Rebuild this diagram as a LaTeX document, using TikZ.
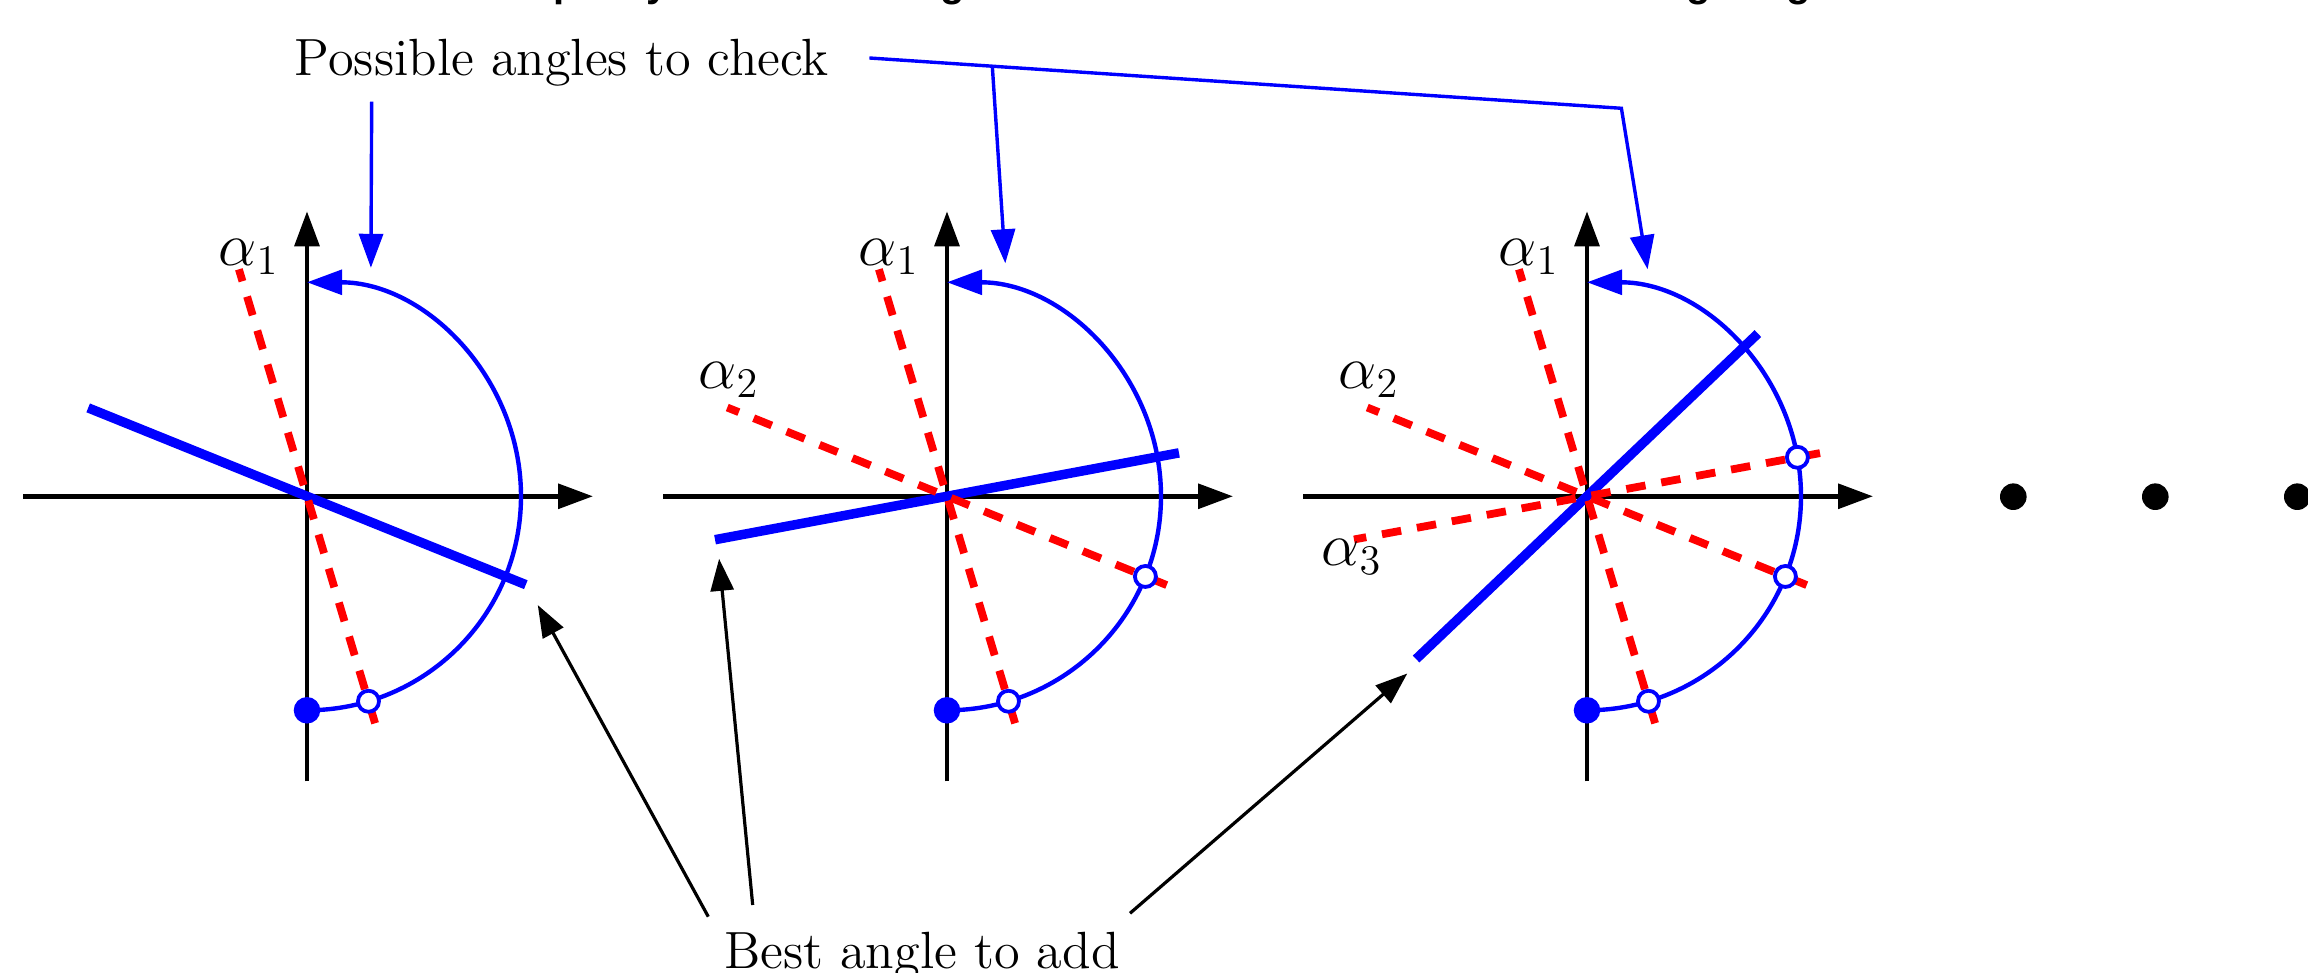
\documentclass[tikz,border=0pt]{standalone}
\usepackage{fontspec}
\newfontfamily\titlefont{Liberation Sans}
\usetikzlibrary{arrows.meta,calc}

\begin{document}
\begin{tikzpicture}[
  axisline/.style={line width=0.047cm, black, -{Triangle[length=0.35cm,width=0.245cm]}},
  sweep/.style={line width=0.044cm, blue, -{Triangle[length=0.35cm,width=0.245cm]}},
  cand/.style={line width=0.078cm, red, dash pattern=on 0.195cm off 0.16cm},
  bestline/.style={line width=0.095cm, blue},
  hollow/.style={circle, draw=blue, fill=white, line width=0.038cm, minimum size=0.21cm, inner sep=0pt},
  fulldot/.style={circle, fill=blue, draw=blue, line width=0.02cm, minimum size=0.245cm, inner sep=0pt},
  blackdot/.style={circle, fill=black, minimum size=0.266cm, inner sep=0pt},
  pointer/.style={line width=0.032cm, black, -{Triangle[length=0.32cm,width=0.23cm]}},
  bluepointer/.style={line width=0.034cm, blue, -{Triangle[length=0.34cm,width=0.24cm]}},
  lbl/.style={font=\fontsize{14.9pt}{18pt}\selectfont, inner sep=0pt},
  mlbl/.style={font=\fontsize{17.28pt}{20pt}\selectfont, inner sep=0pt},
  titletext/.style={font=\titlefont\bfseries\fontsize{11.38pt}{13pt}\selectfont, inner sep=0pt}
]
\useasboundingbox (0,0) rectangle (23.08,9.73);
\clip (0,0) rectangle (23.08,9.73);

% clipped title (only descenders visible)
\node[titletext, anchor=base west] (title) at (4.26,9.764) {Full capacity for the rotating detector is reached after the searching for good results};

% panel origins
\coordinate (O1) at (3.07,4.767);
\coordinate (O2) at (9.47,4.767);
\coordinate (O3) at (15.87,4.767);

% axes
\foreach \n in {1,2,3} {
  \draw[axisline] ($(O\n)+(-2.84,0)$) -- ($(O\n)+(2.86,0)$);
  \draw[axisline] ($(O\n)+(0,-2.85)$) -- ($(O\n)+(0,2.85)$);
}

% best lines
\draw[bestline] ($(O1)+(158:2.36)$) -- ($(O1)+(-22:2.36)$);
\draw[bestline] ($(O2)+(190.6:2.36)$) -- ($(O2)+(10.6:2.36)$);
\draw[bestline] ($(O3)+(223.6:2.36)$) -- ($(O3)+(43.6:2.36)$);

% candidate angles (red dashed)
\foreach \n in {1,2,3} {
  \draw[cand] ($(O\n)+(-73.3:2.37)$) -- ($(O\n)+(106.7:2.37)$);
}
\foreach \n in {2,3} {
  \draw[cand] ($(O\n)+(-22:2.37)$) -- ($(O\n)+(158:2.37)$);
}
\draw[cand] ($(O3)+(10.5:2.37)$) -- ($(O3)+(190.5:2.37)$);

% sweeping arcs
\foreach \n in {1,2,3} {
  \draw[sweep] ($(O\n)+(-90:2.14)$) arc[start angle=-90, end angle=90, radius=2.14];
  \node[fulldot] (f\n) at ($(O\n)+(-90:2.14)$) {};
  \node[hollow] (c\n a) at ($(O\n)+(-73.3:2.14)$) {};
}
\node[hollow] (c2b) at ($(O2)+(-22:2.14)$) {};
\node[hollow] (c3b) at ($(O3)+(-22:2.14)$) {};
\node[hollow] (c3c) at ($(O3)+(10.5:2.14)$) {};

% angle labels
\node[mlbl] (a11) at ($(O1)+(-0.58,2.39)$) {$\alpha_1$};
\node[mlbl] (a21) at ($(O2)+(-0.58,2.39)$) {$\alpha_1$};
\node[mlbl] (a22) at ($(O2)+(-2.18,1.16)$) {$\alpha_2$};
\node[mlbl] (a31) at ($(O3)+(-0.58,2.39)$) {$\alpha_1$};
\node[mlbl] (a32) at ($(O3)+(-2.18,1.16)$) {$\alpha_2$};
\node[mlbl] (a33) at ($(O3)+(-2.35,-0.61)$) {$\alpha_3$};

% dots
\node[blackdot] (d1) at (20.133,4.763) {};
\node[blackdot] (d2) at (21.553,4.763) {};
\node[blackdot] (d3) at (22.973,4.763) {};

% texts
\node[lbl, anchor=base west] (possible) at (2.94,8.973) {Possible angles to check};
\node[lbl, anchor=base west] (bestlbl) at (7.233,0.047) {Best angle to add};

% blue pointers
\coordinate (pA) at (3.717,8.713);
\coordinate (tA) at (3.709,7.052);
\coordinate (p0) at (8.694,9.15);
\coordinate (pJ) at (9.923,9.07);
\coordinate (pK) at (16.214,8.647);
\coordinate (tB) at (10.053,7.097);
\coordinate (tC) at (16.476,7.037);
\draw[bluepointer] (pA) -- (tA);
\draw[bluepointer] (p0) -- (pK) -- (tC);
\draw[bluepointer] (pJ) -- (tB);

% black pointers
\coordinate (s1) at (7.083,0.563);
\coordinate (s2) at (7.527,0.68);
\coordinate (s3) at (11.30,0.597);
\coordinate (t1) at (5.378,3.679);
\coordinate (t2) at (7.191,4.142);
\coordinate (t3) at (14.073,2.995);
\draw[pointer] (s1) -- (t1);
\draw[pointer] (s2) -- (t2);
\draw[pointer] (s3) -- (t3);
\end{tikzpicture}
\end{document}
